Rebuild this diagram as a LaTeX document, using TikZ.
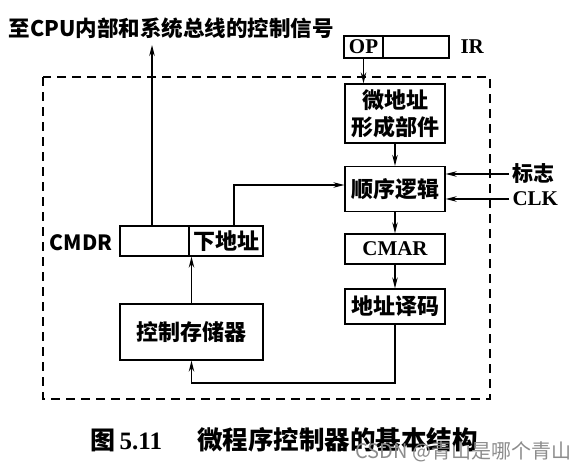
\documentclass[tikz,border=0pt]{standalone}
\usepackage{fontspec}
\setmainfont{Liberation Serif}
\newfontfamily\hei{Noto Sans CJK SC}
\usetikzlibrary{arrows.meta}

\tikzset{
  blk/.style={draw, line width=1.3pt, inner sep=0pt, align=center,
    font=\hei\bfseries\fontsize{22}{27}\selectfont},
  lat/.style={font=\bfseries\fontsize{21}{24}\selectfont},
  txt/.style={font=\hei\bfseries\fontsize{21}{24}\selectfont},
  wire/.style={line width=1.2pt, -{Stealth[length=11pt,width=5.5pt]}},
}

\begin{document}
\begin{tikzpicture}[x=1pt,y=-1pt]
\useasboundingbox (0,0) rectangle (578,474);
% frame of the controller
\draw[line width=1.3pt, dash pattern=on 9pt off 6pt] (43,77) rectangle (490,399);

\node[blk, lat, minimum width=39pt, minimum height=22pt] (op) at (363.5,47) {OP};
\node[blk, minimum width=66pt, minimum height=22pt] (ir) at (416,47) {};
\node[lat, anchor=west] (irlbl) at (457,47) {IR};

\node[blk, minimum width=100pt, minimum height=59pt] (wdz) at (395,113.5) {微地址\\形成部件};
\node[blk, minimum width=100pt, minimum height=45pt] (sxlj) at (395,189) {顺序逻辑};
\node[blk, lat, minimum width=100pt, minimum height=30pt] (cmar) at (395,249) {CMAR};
\node[blk, minimum width=100pt, minimum height=35pt] (dzym) at (395,306.5) {地址译码};

\node[blk, minimum width=69pt, minimum height=30pt] (cmdra) at (154.5,241) {};
\node[blk, minimum width=74pt, minimum height=30pt] (cmdrb) at (226,241) {下地址};
\node[txt, anchor=east] (cmdr) at (116,243) {CMDR};
\node[blk, minimum width=143pt, minimum height=56pt] (kzcc) at (191.5,332) {控制存储器};

\node[txt, anchor=west, font=\hei\bfseries\fontsize{21.5}{24}\selectfont] (sig) at (5,28) {至CPU内部和系统总线的控制信号};
\node[txt, anchor=west] (flag) at (509,174) {标志};
\node[lat, anchor=west] (clk) at (509,199) {CLK};

\coordinate (sigtop) at (152,45);
\coordinate (loop) at (0,383);

% connectors
\draw[wire] (cmdra.north -| sigtop) -- (sigtop);
\draw[wire] (op.south) -- (op.south |- wdz.north);
\draw[wire] (wdz.south) -- (sxlj.north);
\draw[wire] (sxlj.south) -- (cmar.north);
\draw[wire] (cmar.south) -- (dzym.north);
\draw[wire] (dzym.south) |- (kzcc.south |- loop) -- (kzcc.south);
\draw[wire] (kzcc.north) -- (kzcc.north |- cmdrb.south);
\draw[wire] ([xshift=8pt]cmdrb.north) |- ([yshift=4pt]sxlj.west);
\draw[wire] (flag.west) -- (flag.west -| sxlj.east);
\draw[wire] (clk.west) -- (clk.west -| sxlj.east);

\node[anchor=west, font=\bfseries\fontsize{25}{28}\selectfont] (cap) at (87,440)
  {{\hei 图}\,5.11\quad\ \,{\hei\fontsize{25.5}{28}\selectfont 微程序控制器的基本结构}};
\node[anchor=west, text=black!45, font=\hei\fontsize{20}{24}\selectfont] (wm) at (352,452) {CSDN @青山是哪个青山};
\end{tikzpicture}
\end{document}
